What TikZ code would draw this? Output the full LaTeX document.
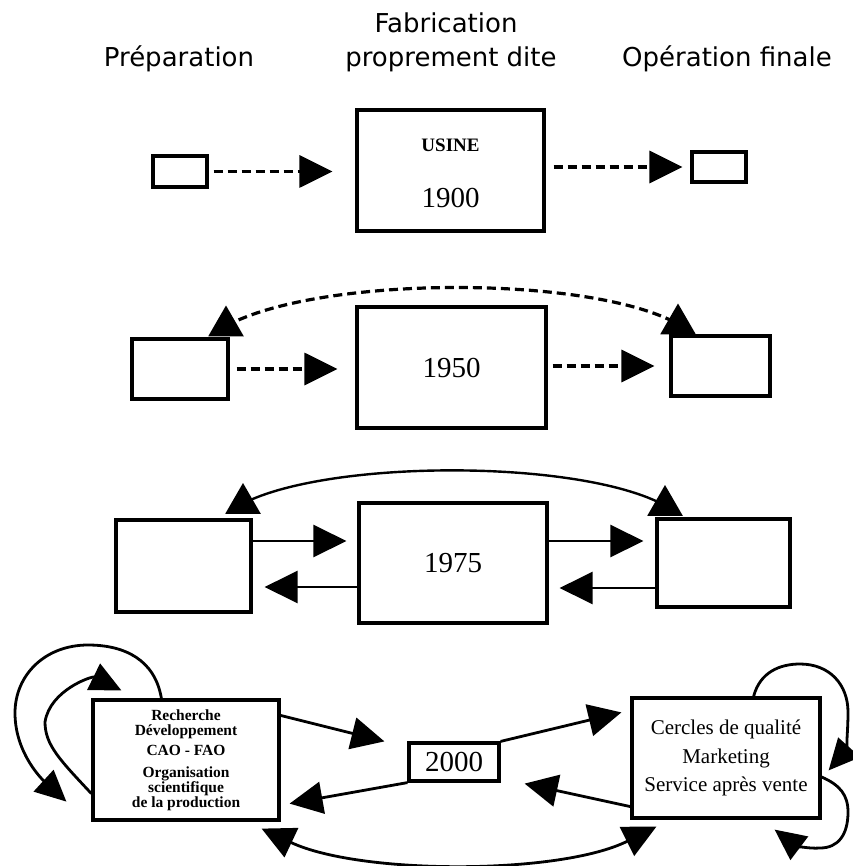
\documentclass[tikz,border=0pt]{standalone}
\usepackage{fontspec}
\setmainfont{Liberation Serif}
\newfontfamily\hdr{DejaVu Sans}
\usetikzlibrary{arrows.meta,shapes.geometric}
\begin{document}
\begin{tikzpicture}[x=1pt,y=-1pt,
  box/.style={draw, line width=3.2pt, inner sep=0pt, align=center},
  arr/.style={line width=2.8pt, -{Triangle[length=33pt,width=32pt]}},
  larr/.style={line width=2.8pt, -{Triangle[length=31pt,width=29pt]}},
  dsh/.style={line width=3.2pt, dash pattern=on 9pt off 5pt, -{Triangle[length=33pt,width=32pt]}},
  tri/.style={regular polygon, regular polygon sides=3, minimum size=41pt, inner sep=0pt, fill=black, draw=none},
  hd/.style={font=\hdr\fontsize{26}{31}\selectfont, anchor=base, inner sep=0pt},
  yr/.style={font=\fontsize{29}{32}\selectfont}
]
\useasboundingbox (0,0) rectangle (852,866);

% headers
\node[hd] (prep) at (179,67) {Préparation};
\node[hd] (fab1) at (446,33) {Fabrication};
\node[hd] (fab2) at (451,67) {proprement dite};
\node[hd] (opf) at (727,67) {Opération finale};

% 1900
\node[box, minimum width=54pt, minimum height=31pt] (a1) at (180,171.5) {};
\node[box, minimum width=187pt, minimum height=121pt] (b1) at (450.5,170.5) {};
\node[font=\bfseries\fontsize{19}{21}\selectfont] (usine) at (450.5,145) {USINE};
\node[yr] (y1900) at (450.5,198) {1900};
\node[box, minimum width=54pt, minimum height=30pt] (c1) at (719,167) {};
\draw[dsh, shorten <=5pt, shorten >=23pt] (a1.east) -- (a1.east -| b1.west);
\draw[dsh, shorten <=8pt, shorten >=8pt] (b1.east |- c1.west) -- (c1.west);

% 1950
\node[box, minimum width=96pt, minimum height=60pt] (a2) at (180,369) {};
\node[box, minimum width=189pt, minimum height=121pt, yr] (b2) at (451.5,367.5) {1950};
\node[box, minimum width=99pt, minimum height=60pt] (c2) at (720.5,366) {};
\draw[dsh, shorten <=7pt, shorten >=18pt] (a2.east) -- (a2.east -| b2.west);
\draw[dsh, shorten <=5pt, shorten >=15pt] (b2.east |- c2.west) -- (c2.west);
\node[tri] (t2l) at (226,326) {};
\node[tri] (t2r) at (678,324) {};
\draw[line width=3.2pt, dash pattern=on 9pt off 5pt] (t2l.center) .. controls (320,275) and (590,275) .. (t2r.center);

% 1975
\node[box, minimum width=135pt, minimum height=92pt] (a3) at (183.5,566) {};
\node[box, minimum width=188pt, minimum height=120pt, yr] (b3) at (453,563) {1975};
\node[box, minimum width=133pt, minimum height=88pt] (c3) at (723.5,563) {};
\draw[arr, shorten >=11pt] ([yshift=25pt]a3.east) -- ([yshift=25pt]a3.east -| b3.west);
\draw[arr, shorten >=12pt] ([yshift=-21pt]a3.east -| b3.west) -- ([yshift=-21pt]a3.east);
\draw[arr, shorten >=12pt] ([yshift=22pt]c3.west -| b3.east) -- ([yshift=22pt]c3.west);
\draw[arr, shorten >=11pt] ([yshift=-25pt]c3.west) -- ([yshift=-25pt]c3.west -| b3.east);
\node[tri] (t3l) at (243,503.5) {};
\node[tri] (t3r) at (665,505.5) {};
\draw[line width=2.4pt] (t3l.center) .. controls (330,459) and (580,459) .. (t3r.center);

% 2000
\node[box, minimum width=186pt, minimum height=120pt, font=\bfseries\fontsize{15.5}{15}\selectfont] (a4) at (186,760)
  {Recherche\\Développement\\[5pt]CAO - FAO\\[7pt]Organisation\\scientifique\\de la production};
\node[box, minimum width=90pt, minimum height=38pt, yr] (b4) at (454,762) {2000};
\node[box, minimum width=188pt, minimum height=120pt, font=\fontsize{21}{28.5}\selectfont] (c4) at (726,758)
  {Cercles de qualité\\Marketing\\Service après vente};

\draw[arr] ([yshift=-17pt]a4.north east) -- ([xshift=-23pt]b4.north west);
\draw[arr] (b4.south west) -- ([xshift=9pt,yshift=18pt]a4.south east);
\draw[arr] (b4.north east) -- ([xshift=-9pt,yshift=-16pt]c4.north west);
\draw[arr] ([yshift=13pt]c4.south west) -- ([xshift=24pt,yshift=-1pt]b4.south east);

\draw[line width=2.8pt, {Triangle[length=33pt,width=32pt]}-{Triangle[length=33pt,width=32pt]}]
  ([xshift=-19pt,yshift=-7pt]a4.south east) .. controls (360,875) and (560,875) .. ([xshift=26pt,yshift=-7pt]c4.south west);

% left self loops
\draw[larr] ([xshift=70pt]a4.north west) .. controls (155,660) and (125,645) .. (88,645)
  .. controls (45,645) and (15,675) .. (15,713)
  .. controls (15,755) and (45,782) .. ([xshift=-25pt,yshift=20pt]a4.south west);
\draw[larr] ([yshift=28pt]a4.south west) .. controls (60,760) and (45,745) .. (45,722)
  .. controls (50,690) and (92,676) .. ([xshift=30pt,yshift=8pt]a4.north west);

% right self loops
\draw[larr] ([xshift=-68pt]c4.north east) .. controls (760,672) and (780,664) .. (800,664)
  .. controls (830,664) and (848,685) .. (848,712)
  .. controls (848,735) and (845,752) .. ([xshift=7pt,yshift=-74pt]c4.north east);
\draw[larr] ([yshift=-19pt]c4.east) .. controls (840,785) and (848,795) .. (848,812)
  .. controls (848,835) and (838,848) .. (820,848)
  .. controls (808,849) and (795,845) .. ([xshift=-47pt,yshift=-10pt]c4.south east);
\end{tikzpicture}
\end{document}
